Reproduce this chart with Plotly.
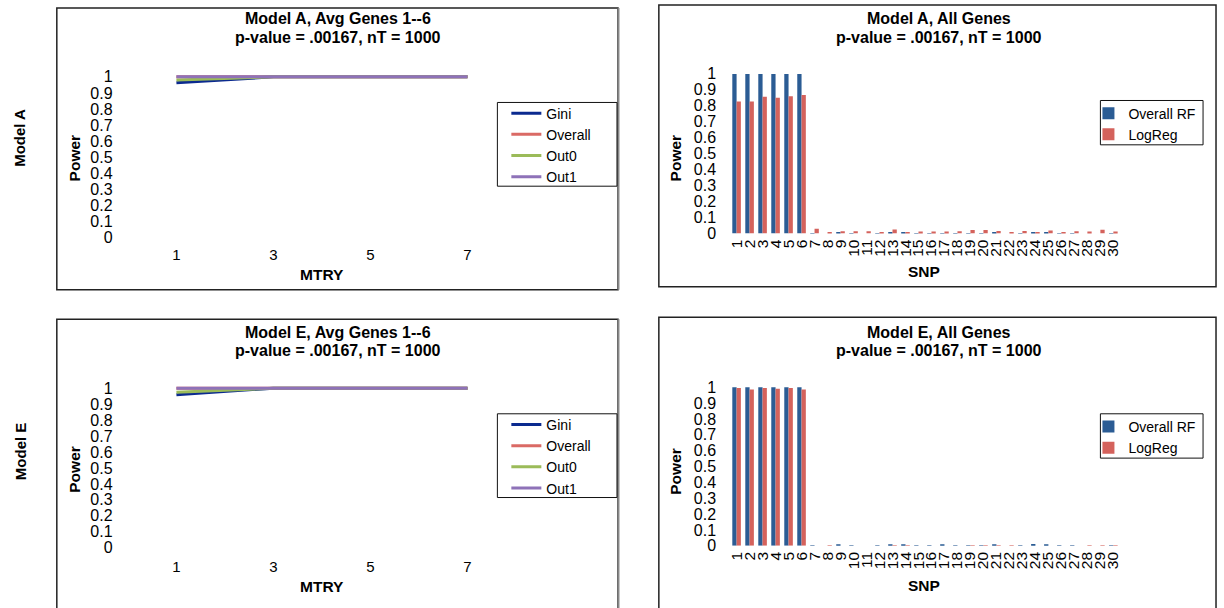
import plotly.graph_objects as go

W, H = 1224, 608

# ---------------- data ----------------
mtry = [1, 3, 5, 7]
a_gini = [0.963, 1.0, 1.0, 1.0]
a_overall = [1.0, 1.0, 1.0, 1.0]
a_out0 = [0.98, 1.0, 1.0, 1.0]
a_out1 = [1.0, 1.0, 1.0, 1.0]

e_gini = [0.958, 1.0, 1.0, 1.0]
e_overall = [1.0, 1.0, 1.0, 1.0]
e_out0 = [0.975, 1.0, 1.0, 1.0]
e_out1 = [1.0, 1.0, 1.0, 1.0]

snp = [str(i) for i in range(1, 31)]
a_rf = [1, 1, 1, 1, 1, 1, 0.002, 0, 0.005, 0.002, 0, 0.002, 0.006, 0.006, 0.002,
        0.002, 0.003, 0.002, 0.002, 0.002, 0.006, 0, 0.002, 0.01, 0.004, 0.002,
        0.002, 0, 0, 0.002]
a_lr = [0.827, 0.827, 0.856, 0.85, 0.86, 0.868, 0.03, 0.008, 0.014, 0.014, 0.014,
        0.01, 0.025, 0.006, 0.012, 0.012, 0.012, 0.014, 0.022, 0.022, 0.016, 0.006,
        0.016, 0.006, 0.018, 0.005, 0.014, 0.012, 0.024, 0.012]
e_rf = [1, 1, 1, 1, 1, 1, 0.002, 0, 0.004, 0.002, 0, 0.002, 0.006, 0.01, 0.002,
        0.002, 0.004, 0.002, 0.002, 0.002, 0.008, 0, 0.002, 0.012, 0.005, 0.002,
        0.002, 0, 0, 0.002]
e_lr = [0.995, 0.985, 0.995, 0.99, 0.995, 0.985, 0, 0.002, 0, 0, 0, 0, 0.002, 0.003,
        0, 0, 0, 0, 0.002, 0.002, 0.002, 0.002, 0, 0, 0, 0, 0, 0.002, 0.002, 0.002]

line_names = ["Gini", "Overall", "Out0", "Out1"]
line_colors = ["#0B2A8F", "#DA6A65", "#9BBB59", "#8E72B8"]
bar_names = ["Overall RF", "LogReg"]
bar_colors = ["#2B5C94", "#D4625C"]
ytick_vals = [i / 10 for i in range(11)]
mtry_ticks = [1, 3, 5, 7]

FONT = "Liberation Sans, Arial, sans-serif"


def px(x):
    return x / W


def py(y):
    return 1 - y / H


fig = go.Figure()

# ---------------- line charts ----------------
panels_line = [
    ("", "legend", [a_gini, a_overall, a_out0, a_out1]),
    ("2", "legend3", [e_gini, e_overall, e_out0, e_out1]),
]
for suf, leg, series in panels_line:
    for name, col, vals in zip(line_names, line_colors, series):
        fig.add_trace(go.Scatter(
            x=mtry, y=vals, mode="lines", name=name,
            line=dict(color=col, width=3),
            xaxis="x" + suf, yaxis="y" + suf, legend=leg,
        ))

# ---------------- bar charts ----------------
panels_bar = [
    ("3", "legend2", [a_rf, a_lr]),
    ("4", "legend4", [e_rf, e_lr]),
]
for suf, leg, series in panels_bar:
    for name, col, vals in zip(bar_names, bar_colors, series):
        fig.add_trace(go.Bar(
            x=snp, y=vals, name=name, marker=dict(color=col, line=dict(width=0)),
            xaxis="x" + suf, yaxis="y" + suf, legend=leg,
        ))

# ---------------- axes geometry ----------------
def line_x_axis(anchor, standoff):
    # x=1 at 175px, x=7 at 467px, domain 118..500 px
    left, right = 118, 500
    scale = (467 - 175) / 6.0
    rng = [1 - (175 - left) / scale, 7 + (right - 467) / scale]
    return dict(domain=[px(left), px(right)], range=rng, anchor=anchor,
                tickmode="array", tickvals=mtry_ticks, showgrid=False,
                zeroline=False, showline=False, ticks="",
                ticklabelstandoff=standoff,
                tickfont=dict(size=15, color="black", family=FONT))


def y_axis(anchor, y0, y1, top, left_px):
    # y0 = pixel of value 0, y1 = pixel of value 1, top = pixel of domain top
    scale = y0 - y1
    return dict(domain=[py(y0), py(top)], range=[0, (y0 - top) / scale],
                anchor=anchor, tickmode="array", tickvals=ytick_vals,
                showgrid=False, zeroline=False, showline=False, ticks="",
                ticklabelstandoff=left_px,
                tickfont=dict(size=16, color="black", family=FONT))


def bar_x_axis(anchor):
    # category 1 center at 737px, 30 at 1115px
    step = (1115 - 737) / 29.0
    left = 737 - step * 0.5
    right = 1115 + step * 0.5
    return dict(domain=[px(left), px(right)], range=[-0.5, 29.5], anchor=anchor,
                type="category", tickmode="linear", dtick=1, tickangle=-90,
                showgrid=False, zeroline=False, showline=False, ticks="",
                ticklabelstandoff=2,
                tickfont=dict(size=15.5, color="black", family=FONT))


fig.update_layout(
    xaxis=line_x_axis("y", 7),
    yaxis=y_axis("x", 241, 78, 70, 6),
    xaxis2=line_x_axis("y2", 8),
    yaxis2=y_axis("x2", 556, 394, 386, 6),
    xaxis3=bar_x_axis("y3"),
    yaxis3=y_axis("x3", 237, 75, 67, 13),
    xaxis4=bar_x_axis("y4"),
    yaxis4=y_axis("x4", 554, 393, 385, 13),
    barmode="group", bargap=0.34, bargroupgap=0,
)

# ---------------- legends ----------------
def legend(x, y):
    return dict(x=px(x), y=py(y), xanchor="left", yanchor="top",
                borderwidth=0, bgcolor="rgba(0,0,0,0)",
                font=dict(size=14, color="black", family=FONT),
                tracegroupgap=0, orientation="v", itemwidth=30)

fig.update_layout(
    legend=legend(506, 99),
    legend2=legend(1090, 99),
    legend3=legend(506, 415),
    legend4=legend(1090, 417),
)

# ---------------- texts ----------------
ann = []


def text(x, y, t, size=15, angle=0):
    ann.append(dict(x=px(x), y=py(y), xref="paper", yref="paper", text=t,
                    showarrow=False, textangle=angle, xanchor="center",
                    yanchor="middle",
                    font=dict(size=size, color="black", family=FONT)))


title_font = 16
text(337, 19, "<b>Model A, Avg Genes 1--6</b>", title_font)
text(337, 38, "<b>p-value = .00167, nT = 1000</b>", title_font)
text(940, 19, "<b>Model A, All Genes</b>", title_font)
text(940, 38, "<b>p-value = .00167, nT = 1000</b>", title_font)
text(337, 337, "<b>Model E, Avg Genes 1--6</b>", title_font)
text(337, 356, "<b>p-value = .00167, nT = 1000</b>", title_font)
text(940, 337, "<b>Model E, All Genes</b>", title_font)
text(940, 356, "<b>p-value = .00167, nT = 1000</b>", title_font)

text(321, 279, "<b>MTRY</b>", 15.5)
text(321, 595, "<b>MTRY</b>", 15.5)
text(925, 276, "<b>SNP</b>", 15.5)
text(925, 594, "<b>SNP</b>", 15.5)

text(73, 160, "<b>Power</b>", 15.5, -90)
text(73, 476, "<b>Power</b>", 15.5, -90)
text(676, 160, "<b>Power</b>", 15.5, -90)
text(676, 478, "<b>Power</b>", 15.5, -90)

text(18, 140, "<b>Model A</b>", 15, -90)
text(18, 458, "<b>Model E</b>", 15, -90)

fig.update_layout(annotations=ann)

# ---------------- panel borders and legend boxes ----------------
shapes = []
for (x0, y0, x1, y1) in [(55, 8, 618, 294), (659, 5, 1218, 291),
                         (55, 324, 618, 640), (659, 322, 1218, 640)]:
    shapes.append(dict(type="rect", xref="paper", yref="paper",
                       x0=px(x0), x1=px(x1), y0=py(y1), y1=py(y0),
                       line=dict(color="#222222", width=1.5),
                       fillcolor="rgba(0,0,0,0)", layer="below"))
# greyish right edge of the left panels
for (y0, y1) in [(8, 294), (324, 640)]:
    shapes.append(dict(type="line", xref="paper", yref="paper",
                       x0=px(618.5), x1=px(618.5), y0=py(y1), y1=py(y0),
                       line=dict(color="#888888", width=2), layer="below"))
# legend frames
for (x0, y0, x1, y1) in [(497, 104, 617, 189), (1102, 102, 1205, 147),
                         (497, 420, 617, 505), (1102, 420, 1205, 465)]:
    shapes.append(dict(type="rect", xref="paper", yref="paper",
                       x0=px(x0), x1=px(x1), y0=py(y1), y1=py(y0),
                       line=dict(color="#111111", width=1),
                       fillcolor="white", layer="above"))
fig.update_layout(shapes=shapes)

fig.update_layout(
    width=W, height=H, margin=dict(l=0, r=0, t=0, b=0),
    paper_bgcolor="white", plot_bgcolor="white",
    font=dict(family=FONT, color="black"),
)

fig.write_html("out.html", include_plotlyjs=True, full_html=True,
               config={"displayModeBar": False})
